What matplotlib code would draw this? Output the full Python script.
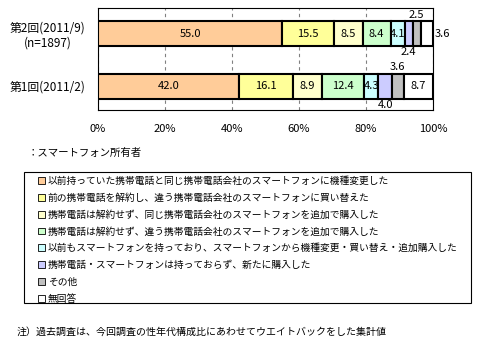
import matplotlib
matplotlib.use("Agg")
import matplotlib.pyplot as plt
from matplotlib.patches import Patch, Rectangle
import numpy as np

plt.rcParams['font.family'] = ['Noto Sans CJK JP', 'DejaVu Sans']

rounds = ["第2回(2011/9)\n(n=1897)", "第1回(2011/2)"]
categories = [
    "以前持っていた携帯電話と同じ携帯電話会社のスマートフォンに機種変更した",
    "前の携帯電話を解約し、違う携帯電話会社のスマートフォンに買い替えた",
    "携帯電話は解約せず、同じ携帯電話会社のスマートフォンを追加で購入した",
    "携帯電話は解約せず、違う携帯電話会社のスマートフォンを追加で購入した",
    "以前もスマートフォンを持っており、スマートフォンから機種変更・買い替え・追加購入した",
    "携帯電話・スマートフォンは持っておらず、新たに購入した",
    "その他",
    "無回答",
]
round2 = [55.0, 15.5, 8.5, 8.4, 4.1, 2.4, 2.5, 3.6]
round1 = [42.0, 16.1, 8.9, 12.4, 4.3, 4.0, 3.6, 8.7]
xticks = [0, 20, 40, 60, 80, 100]
xticklabels = ["0%", "20%", "40%", "60%", "80%", "100%"]
colors = ["#FFCC99", "#FFFF99", "#FFFFCC", "#CCFFCC", "#CCFFFF", "#CCCCFF", "#C0C0C0", "#FFFFFF"]
# label placement for each segment, per round
place2 = ["in", "in", "in", "in", "in", "below", "above", "right"]
place1 = ["in", "in", "in", "in", "in", "below", "above", "in"]

fig = plt.figure(figsize=(4.79, 3.44), dpi=100)
W, H = 479, 344
ax = fig.add_axes([98 / W, 1 - 110 / H, (433 - 98) / W, 102 / H])

data = [round2, round1]
places = [place2, place1]
ypos = [0, 1]
bh = 0.476
for yi, vals, pl in zip(ypos, data, places):
    left = 0.0
    for v, c, p in zip(vals, colors, pl):
        ax.barh(yi, v, left=left, height=bh, color=c, edgecolor="black", linewidth=1.5, zorder=3)
        cx = left + v / 2
        txt = f"{v:.1f}"
        if p == "in":
            ax.text(cx, yi, txt, ha="center", va="center", fontsize=8, zorder=4)
        elif p == "above":
            ax.annotate(txt, (cx, yi - bh / 2), xytext=(0, 1), textcoords="offset points",
                        ha="center", va="bottom", fontsize=8)
        elif p == "below":
            ax.annotate(txt, (cx, yi + bh / 2), xytext=(0, -1), textcoords="offset points",
                        ha="center", va="top", fontsize=8)
        elif p == "right":
            ax.annotate(txt, (left + v, yi), xytext=(1, 0), textcoords="offset points",
                        ha="left", va="center", fontsize=8)
        left += v

ax.set_xlim(0, 100)
ax.set_ylim(1.457, -0.486)
ax.set_xticks(xticks)
ax.set_xticklabels(xticklabels, fontsize=8)
ax.set_yticks(ypos)
ax.set_yticklabels(rounds, fontsize=8.5, multialignment="center")
ax.tick_params(axis="x", length=0, pad=10)
ax.tick_params(axis="y", length=0, pad=9)
ax.grid(axis="x", linestyle=(0, (3, 3)), color="#808080", linewidth=0.8, zorder=0)
for s in ax.spines.values():
    s.set_color("black")
    s.set_linewidth(0.8)

fig.text(28 / W, 1 - 153 / H, "：スマートフォン所有者", fontsize=7.5, va="center", ha="left")

# legend frame
fig.patches.append(Rectangle((24 / W, 1 - 303 / H), (471 - 24) / W, 131 / H,
                             transform=fig.transFigure, fill=False,
                             edgecolor="black", linewidth=0.8))

handles = [Patch(facecolor=c, edgecolor="black", linewidth=0.6) for c in colors]
leg = fig.legend(handles, categories, loc="upper left",
                 bbox_to_anchor=(36 / W, 1 - 174 / H),
                 fontsize=7.0, frameon=False,
                 handlelength=0.7, handleheight=0.7, handletextpad=0.3,
                 labelspacing=0.7, borderpad=0.2, borderaxespad=0)

fig.text(17 / W, 1 - 332 / H, "注）過去調査は、今回調査の性年代構成比にあわせてウエイトバックをした集計値",
         fontsize=7.2, va="center", ha="left")

fig.savefig("out.png", dpi=100)
